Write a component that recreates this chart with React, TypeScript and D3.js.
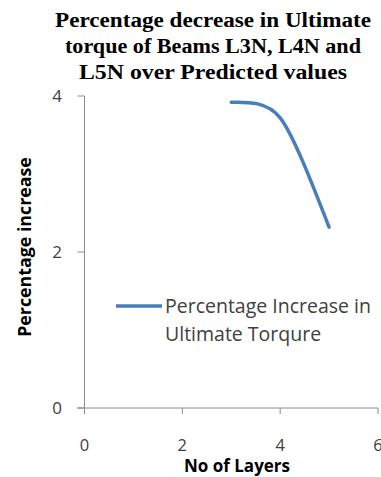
import React from "react";
import * as d3 from "d3";

const layers = [3, 4, 5];
const increase = [3.92, 3.72, 2.32];
const xTicks = [0, 2, 4, 6];
const yTicks = [0, 2, 4];
const titleLines = [
  "Percentage decrease in Ultimate",
  "torque of Beams L3N, L4N and",
  "L5N over Predicted values",
];
const legendLines = ["Percentage Increase in", "Ultimate Torqure"];

const W = 381;
const H = 477;
// rendered width of each title line
const titleWidths = [316, 296, 268];

// Smoothed polyline built from cubic Bezier segments. Interior tangents follow
// the neighbour chord; each end handle points halfway to the adjacent handle.
function smoothPath(p: [number, number][], k = 0.13): string {
  const path = d3.path();
  const n = p.length;
  if (n === 0) return "";
  path.moveTo(p[0][0], p[0][1]);
  if (n === 1) return path.toString();
  const outCp: [number, number][] = [];
  const inCp: [number, number][] = [];
  for (let i = 1; i < n - 1; i++) {
    const tx = (p[i + 1][0] - p[i - 1][0]) * k;
    const ty = (p[i + 1][1] - p[i - 1][1]) * k;
    inCp[i] = [p[i][0] - tx, p[i][1] - ty];
    outCp[i] = [p[i][0] + tx, p[i][1] + ty];
  }
  const firstRef = n > 2 ? inCp[1] : p[1];
  const lastRef = n > 2 ? outCp[n - 2] : p[0];
  outCp[0] = [p[0][0] + (firstRef[0] - p[0][0]) / 2, p[0][1] + (firstRef[1] - p[0][1]) / 2];
  inCp[n - 1] = [p[n - 1][0] + (lastRef[0] - p[n - 1][0]) / 2, p[n - 1][1] + (lastRef[1] - p[n - 1][1]) / 2];
  for (let i = 1; i < n; i++) {
    path.bezierCurveTo(outCp[i - 1][0], outCp[i - 1][1], inCp[i][0], inCp[i][1], p[i][0], p[i][1]);
  }
  return path.toString();
}

export default function App() {
  const x = d3.scaleLinear().domain([0, 6]).range([84.5, 378]);
  const y = d3.scaleLinear().domain([0, 4]).range([408, 96]);
  const pts: [number, number][] = layers.map((l, i) => [x(l), y(increase[i])]);
  const axisColor = "#8c8c8c";
  const sans = "'Open Sans', 'Liberation Sans', sans-serif";

  return (
    <svg
      width={W}
      height={H}
      style={{ position: "absolute", left: 0, top: 0, background: "#fff" }}
    >
      <g fontFamily="'Liberation Serif', serif" fontWeight="bold" fontSize={20} fill="#000" textAnchor="middle">
        {titleLines.map((t, i) => (
          <text
            key={t}
            x={213}
            y={27 + i * 26}
            textLength={titleWidths[i]}
            lengthAdjust="spacingAndGlyphs"
          >
            {t}
          </text>
        ))}
      </g>

      {/* axes */}
      <line x1={x(0)} x2={x(0)} y1={y(4)} y2={y(0) + 5} stroke={axisColor} strokeWidth={1} />
      <line x1={77} x2={x(6)} y1={y(0)} y2={y(0)} stroke={axisColor} strokeWidth={1} />
      {yTicks.map((t) => (
        <g key={"y" + t}>
          <line x1={x(0) - 7} x2={x(0)} y1={y(t)} y2={y(t)} stroke={axisColor} />
          <text x={57} y={y(t)} dy="0.35em" textAnchor="middle" fontFamily={sans} fontSize={17} fill="#404040">
            {t}
          </text>
        </g>
      ))}
      {xTicks.map((t) => (
        <g key={"x" + t}>
          <line x1={x(t)} x2={x(t)} y1={y(0)} y2={y(0) + 6} stroke={axisColor} />
          <text x={x(t)} y={445} dy="0.35em" textAnchor="middle" fontFamily={sans} fontSize={16.5} fill="#404040">
            {t}
          </text>
        </g>
      ))}

      <text x={237} y={472} textAnchor="middle" fontFamily={sans} fontWeight="bold" fontSize={17} fill="#000">
        No of Layers
      </text>
      <text
        transform={`translate(31,247) rotate(-90)`}
        textAnchor="middle"
        fontFamily={sans}
        fontWeight="bold"
        fontSize={17.8}
        fill="#000"
      >
        Percentage increase
      </text>

      {/* data line */}
      <path d={smoothPath(pts)} fill="none" stroke="#4a7ebb" strokeWidth={3.5} strokeLinecap="round" />

      {/* legend */}
      <line x1={116} x2={162} y1={306} y2={306} stroke="#4a7ebb" strokeWidth={3.5} />
      {legendLines.map((t, i) => (
        <text key={t} x={165} y={313 + i * 28} fontFamily={sans} fontSize={19.5} fill="#404040">
          {t}
        </text>
      ))}
    </svg>
  );
}
